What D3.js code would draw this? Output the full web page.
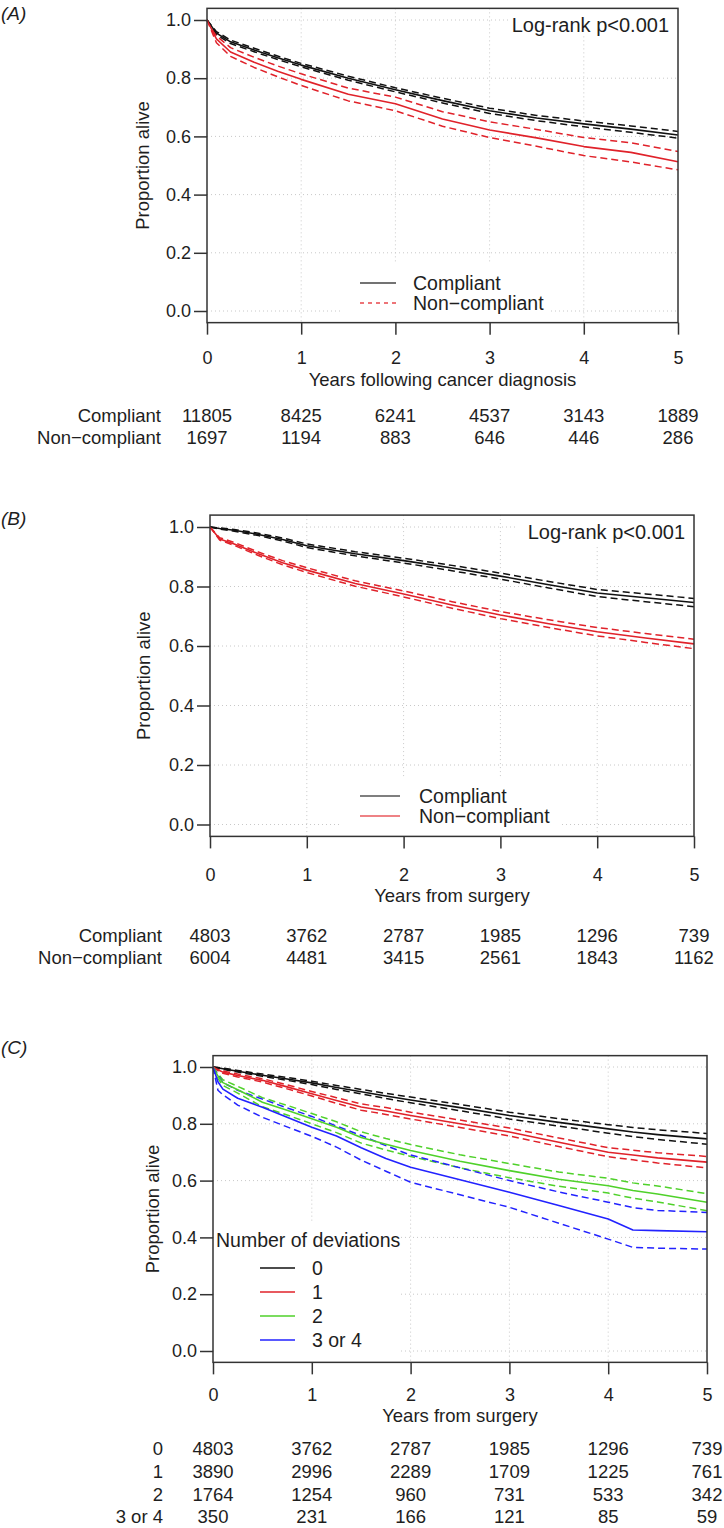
<!DOCTYPE html>
<html>
<head>
<meta charset="utf-8">
<script src="https://cdn.jsdelivr.net/npm/d3@7"></script>
<style>
html,body{margin:0;padding:0;background:#fff;}
svg{display:block;}
text{font-family:"Liberation Sans",Arial,Helvetica,sans-serif;fill:#1e1e1e;}
</style>
</head>
<body>
<svg id="chart" width="724" height="1528"></svg>
<script>
// ---------------- DATA ----------------
const xTicks = [0, 1, 2, 3, 4, 5];
const yTicks = [0, 0.2, 0.4, 0.6, 0.8, 1.0];

// Panel A: years following cancer diagnosis
const timesA = [0, 0.1, 0.25, 0.5, 0.75, 1, 1.5, 2, 2.5, 3, 3.5, 4, 4.5, 5];
const compliantA      = [1, 0.955, 0.925, 0.897, 0.870, 0.845, 0.800, 0.760, 0.723, 0.688, 0.663, 0.643, 0.625, 0.605];
const compliantA_hi   = [1, 0.960, 0.931, 0.903, 0.876, 0.851, 0.807, 0.767, 0.731, 0.697, 0.672, 0.653, 0.636, 0.617];
const compliantA_lo   = [1, 0.950, 0.919, 0.891, 0.864, 0.839, 0.793, 0.753, 0.715, 0.679, 0.654, 0.633, 0.614, 0.594];
const nonCompliantA   = [1, 0.935, 0.890, 0.855, 0.824, 0.796, 0.745, 0.712, 0.660, 0.622, 0.595, 0.565, 0.545, 0.513];
const nonCompliantA_hi= [1, 0.945, 0.905, 0.872, 0.842, 0.815, 0.766, 0.735, 0.685, 0.650, 0.624, 0.596, 0.578, 0.548];
const nonCompliantA_lo= [1, 0.922, 0.875, 0.837, 0.805, 0.775, 0.722, 0.688, 0.635, 0.596, 0.566, 0.534, 0.512, 0.485];
const riskA_compliant    = [11805, 8425, 6241, 4537, 3143, 1889];
const riskA_nonCompliant = [1697, 1194, 883, 646, 446, 286];

// Panel B: years from surgery
const timesB = [0, 0.1, 0.25, 0.5, 0.75, 1, 1.5, 2, 2.5, 3, 3.5, 4, 4.5, 5];
const compliantB      = [1, 0.995, 0.989, 0.975, 0.958, 0.937, 0.910, 0.887, 0.862, 0.835, 0.806, 0.778, 0.762, 0.746];
const compliantB_hi   = [1, 0.997, 0.992, 0.979, 0.963, 0.943, 0.917, 0.895, 0.871, 0.845, 0.817, 0.790, 0.775, 0.760];
const compliantB_lo   = [1, 0.993, 0.986, 0.971, 0.953, 0.931, 0.903, 0.879, 0.853, 0.825, 0.795, 0.766, 0.749, 0.732];
const nonCompliantB   = [1, 0.960, 0.943, 0.910, 0.880, 0.855, 0.810, 0.775, 0.738, 0.704, 0.675, 0.648, 0.627, 0.607];
const nonCompliantB_hi= [1, 0.964, 0.948, 0.916, 0.887, 0.863, 0.819, 0.785, 0.749, 0.716, 0.688, 0.662, 0.642, 0.623];
const nonCompliantB_lo= [1, 0.956, 0.938, 0.904, 0.873, 0.847, 0.801, 0.765, 0.727, 0.692, 0.662, 0.634, 0.612, 0.591];
const riskB_compliant    = [4803, 3762, 2787, 1985, 1296, 739];
const riskB_nonCompliant = [6004, 4481, 3415, 2561, 1843, 1162];

// Panel C: number of deviations
const timesC = [0, 0.05, 0.1, 0.25, 0.5, 0.75, 1, 1.25, 1.5, 1.75, 2, 2.5, 3, 3.5, 4, 4.25, 4.5, 5];
const dev0    = [1, 0.997, 0.994, 0.985, 0.971, 0.958, 0.944, 0.928, 0.913, 0.898, 0.884, 0.857, 0.829, 0.805, 0.782, 0.771, 0.762, 0.747];
const dev0_hi = [1, 0.998, 0.996, 0.988, 0.975, 0.963, 0.950, 0.935, 0.921, 0.907, 0.894, 0.868, 0.841, 0.818, 0.797, 0.787, 0.779, 0.766];
const dev0_lo = [1, 0.996, 0.992, 0.982, 0.967, 0.953, 0.938, 0.921, 0.905, 0.889, 0.874, 0.846, 0.817, 0.792, 0.767, 0.755, 0.745, 0.728];
const dev1    = [1, 0.990, 0.982, 0.970, 0.953, 0.930, 0.906, 0.882, 0.859, 0.845, 0.829, 0.800, 0.771, 0.735, 0.700, 0.690, 0.680, 0.665];
const dev1_hi = [1, 0.993, 0.986, 0.975, 0.959, 0.937, 0.914, 0.892, 0.870, 0.857, 0.841, 0.813, 0.785, 0.750, 0.716, 0.707, 0.698, 0.685];
const dev1_lo = [1, 0.987, 0.978, 0.965, 0.947, 0.923, 0.898, 0.872, 0.848, 0.833, 0.817, 0.787, 0.757, 0.720, 0.684, 0.673, 0.662, 0.645];
const dev2    = [1, 0.968, 0.945, 0.920, 0.876, 0.848, 0.818, 0.788, 0.752, 0.728, 0.706, 0.668, 0.635, 0.605, 0.582, 0.565, 0.553, 0.524];
const dev2_hi = [1, 0.976, 0.955, 0.932, 0.892, 0.865, 0.836, 0.807, 0.772, 0.748, 0.727, 0.691, 0.660, 0.630, 0.608, 0.592, 0.581, 0.554];
const dev2_lo = [1, 0.960, 0.935, 0.908, 0.860, 0.831, 0.800, 0.769, 0.732, 0.708, 0.685, 0.645, 0.610, 0.580, 0.556, 0.538, 0.525, 0.494];
const dev34    = [1, 0.948, 0.922, 0.890, 0.858, 0.823, 0.788, 0.757, 0.716, 0.678, 0.647, 0.603, 0.559, 0.512, 0.465, 0.426, 0.424, 0.420];
const dev34_hi = [1, 0.973, 0.945, 0.918, 0.887, 0.856, 0.826, 0.792, 0.759, 0.723, 0.690, 0.645, 0.600, 0.560, 0.524, 0.505, 0.495, 0.488];
const dev34_lo = [1, 0.918, 0.902, 0.866, 0.823, 0.789, 0.756, 0.718, 0.672, 0.633, 0.594, 0.550, 0.506, 0.450, 0.394, 0.365, 0.362, 0.359];
const riskC_0  = [4803, 3762, 2787, 1985, 1296, 739];
const riskC_1  = [3890, 2996, 2289, 1709, 1225, 761];
const riskC_2  = [1764, 1254, 960, 731, 533, 342];
const riskC_34 = [350, 231, 166, 121, 85, 59];

// ---------------- DRAW ----------------
const svg = d3.select("#chart");
const BLACK = "#111", RED = "#e0222a", GREEN = "#4fd12a", BLUE = "#2222ff";
const CI_DASH = "7,4";

function drawPanel(cfg) {
  const g = svg.append("g");
  const x = d3.scaleLinear().domain([0, 5]).range([cfg.left, cfg.right]);
  const y = d3.scaleLinear().domain([0, 1]).range([cfg.y0, cfg.y1]);
  const top = y(1.04), bottom = y(-0.04);

  // grid
  const grid = g.append("g").attr("stroke", "#c8c8c8").attr("stroke-width", 1).attr("stroke-dasharray", "1,3");
  grid.selectAll("line.v").data(xTicks.slice(1, -1)).join("line")
    .attr("x1", d => x(d)).attr("x2", d => x(d)).attr("y1", top).attr("y2", bottom);
  grid.selectAll("line.h").data(yTicks).join("line")
    .attr("x1", cfg.left).attr("x2", cfg.right).attr("y1", d => y(d)).attr("y2", d => y(d));

  // white backgrounds of legend / annotation
  cfg.bgs.forEach(b => g.append("rect").attr("x", b[0]).attr("y", b[1])
    .attr("width", b[2] - b[0]).attr("height", b[3] - b[1]).attr("fill", "#fff"));

  // curves
  const line = d3.line().x(d => x(d[0])).y(d => y(d[1]));
  cfg.series.forEach(s => {
    g.append("path")
      .attr("d", line(s.t.map((t, i) => [t, s.v[i]])))
      .attr("fill", "none").attr("stroke", s.color)
      .attr("stroke-width", s.dash ? 1.5 : 1.6)
      .attr("stroke-dasharray", s.dash ? CI_DASH : null)
      .attr("stroke-linejoin", "round");
  });

  // box
  g.append("rect").attr("x", cfg.left).attr("y", top).attr("width", cfg.right - cfg.left)
    .attr("height", bottom - top).attr("fill", "none").attr("stroke", "#333").attr("stroke-width", 1.5);

  // y axis
  const ya = g.append("g").attr("transform", `translate(${cfg.left},0)`)
    .call(d3.axisLeft(y).tickValues(yTicks).tickFormat(d3.format(".1f")).tickSize(13).tickPadding(3));
  ya.select(".domain").remove();
  ya.selectAll(".tick line").attr("stroke", "#333").attr("stroke-width", 1.5);
  ya.selectAll(".tick text").attr("font-size", 18).attr("fill", "#1e1e1e")
    .style("font-family", '"Liberation Sans",Arial,sans-serif');

  // x axis
  const xa = g.append("g").attr("transform", `translate(0,${bottom})`)
    .call(d3.axisBottom(x).tickValues(xTicks).tickFormat(d3.format("d")).tickSize(12));
  xa.select(".domain").remove();
  xa.selectAll(".tick line").attr("stroke", "#333").attr("stroke-width", 1.5);
  xa.selectAll(".tick text").attr("font-size", 18).attr("fill", "#1e1e1e")
    .attr("y", cfg.xLabelY - bottom).attr("dy", "0.36em")
    .style("font-family", '"Liberation Sans",Arial,sans-serif');

  // axis titles
  g.append("text").attr("transform", `translate(${cfg.yTitleX},${(y(0) + y(1)) / 2}) rotate(-90)`)
    .attr("text-anchor", "middle").attr("dy", "0.36em").attr("font-size", 18.5).text("Proportion alive");
  g.append("text").attr("x", (cfg.left + cfg.right) / 2).attr("y", cfg.xTitleY).attr("dy", "0.36em")
    .attr("text-anchor", "middle").attr("font-size", 18.5).text(cfg.xTitle);

  // panel label
  g.append("text").attr("x", 1).attr("y", cfg.labelY).attr("dy", "0.36em")
    .attr("font-size", 19).attr("font-style", "italic").text(cfg.label);

  // log-rank
  if (cfg.logrank) {
    g.append("text").attr("x", cfg.logrank[0]).attr("y", cfg.logrank[1]).attr("dy", "0.36em")
      .attr("text-anchor", "end").attr("font-size", 20).text("Log-rank p<0.001");
  }

  // numbers at risk table
  cfg.table.forEach((row, r) => {
    const ry = cfg.tableY[r];
    g.append("text").attr("x", cfg.tableLabelX).attr("y", ry).attr("dy", "0.36em")
      .attr("text-anchor", "end").attr("font-size", 18.5).text(row.name);
    g.selectAll(null).data(row.values).join("text")
      .attr("x", (d, i) => x(xTicks[i])).attr("y", ry).attr("dy", "0.36em")
      .attr("text-anchor", "middle").attr("font-size", 18.5).text(d => d);
  });

  // legend
  const lg = cfg.legend;
  if (lg.title) {
    g.append("text").attr("x", lg.titleX).attr("y", lg.titleY).attr("dy", "0.36em")
      .attr("font-size", 19.5).text(lg.title);
  }
  lg.items.forEach((it, i) => {
    const ly = lg.ys[i];
    g.append("line").attr("x1", lg.x0).attr("x2", lg.x1).attr("y1", ly).attr("y2", ly)
      .attr("stroke", it.color).attr("stroke-width", 1.4)
      .attr("stroke-dasharray", it.dash ? "4,4" : null);
    g.append("text").attr("x", lg.tx).attr("y", ly).attr("dy", "0.36em")
      .attr("font-size", 19.5).text(it.name);
  });
}

// Panel A
drawPanel({
  label: "(A)", labelY: 13,
  left: 207, right: 678, y0: 311, y1: 20,
  xLabelY: 358, xTitleY: 379, xTitle: "Years following cancer diagnosis",
  yTitleX: 142,
  logrank: [669, 25],
  bgs: [[508, 8, 677, 34], [340, 262, 550, 322]],
  series: [
    {t: timesA, v: compliantA_hi, color: BLACK, dash: true},
    {t: timesA, v: compliantA_lo, color: BLACK, dash: true},
    {t: timesA, v: nonCompliantA_hi, color: RED, dash: true},
    {t: timesA, v: nonCompliantA_lo, color: RED, dash: true},
    {t: timesA, v: compliantA, color: BLACK},
    {t: timesA, v: nonCompliantA, color: RED}
  ],
  tableLabelX: 161, tableY: [415, 437],
  table: [
    {name: "Compliant", values: riskA_compliant},
    {name: "Non\u2212compliant", values: riskA_nonCompliant}
  ],
  legend: {x0: 360, x1: 396, tx: 413, ys: [283, 303],
    items: [{name: "Compliant", color: "#444"}, {name: "Non\u2212compliant", color: "#e8474c", dash: true}]}
});

// Panel B
drawPanel({
  label: "(B)", labelY: 518,
  left: 210, right: 694, y0: 824.5, y1: 527,
  xLabelY: 875, xTitleY: 895, xTitle: "Years from surgery",
  yTitleX: 143,
  logrank: [685, 532],
  bgs: [[515, 515, 693, 547], [341, 778, 561, 836]],
  series: [
    {t: timesB, v: compliantB_hi, color: BLACK, dash: true},
    {t: timesB, v: compliantB_lo, color: BLACK, dash: true},
    {t: timesB, v: nonCompliantB_hi, color: RED, dash: true},
    {t: timesB, v: nonCompliantB_lo, color: RED, dash: true},
    {t: timesB, v: compliantB, color: BLACK},
    {t: timesB, v: nonCompliantB, color: RED}
  ],
  tableLabelX: 162, tableY: [935, 957],
  table: [
    {name: "Compliant", values: riskB_compliant},
    {name: "Non\u2212compliant", values: riskB_nonCompliant}
  ],
  legend: {x0: 360, x1: 400, tx: 419, ys: [796, 816],
    items: [{name: "Compliant", color: "#555"}, {name: "Non\u2212compliant", color: "#e8585c"}]}
});

// Panel C
drawPanel({
  label: "(C)", labelY: 1047,
  left: 213, right: 707, y0: 1351, y1: 1067,
  xLabelY: 1395, xTitleY: 1415, xTitle: "Years from surgery",
  yTitleX: 152,
  logrank: null,
  bgs: [[214, 1222, 399, 1361]],
  series: [
    {t: timesC, v: dev0_hi, color: BLACK, dash: true},
    {t: timesC, v: dev0_lo, color: BLACK, dash: true},
    {t: timesC, v: dev1_hi, color: RED, dash: true},
    {t: timesC, v: dev1_lo, color: RED, dash: true},
    {t: timesC, v: dev2_hi, color: GREEN, dash: true},
    {t: timesC, v: dev2_lo, color: GREEN, dash: true},
    {t: timesC, v: dev34_hi, color: BLUE, dash: true},
    {t: timesC, v: dev34_lo, color: BLUE, dash: true},
    {t: timesC, v: dev0, color: BLACK},
    {t: timesC, v: dev1, color: RED},
    {t: timesC, v: dev2, color: GREEN},
    {t: timesC, v: dev34, color: BLUE}
  ],
  tableLabelX: 163, tableY: [1448, 1471, 1494, 1516],
  table: [
    {name: "0", values: riskC_0},
    {name: "1", values: riskC_1},
    {name: "2", values: riskC_2},
    {name: "3 or 4", values: riskC_34}
  ],
  legend: {title: "Number of deviations", titleX: 216, titleY: 1240,
    x0: 260, x1: 295, tx: 312, ys: [1268, 1292, 1316, 1340],
    items: [{name: "0", color: BLACK}, {name: "1", color: RED},
            {name: "2", color: GREEN}, {name: "3 or 4", color: BLUE}]}
});
</script>
</body>
</html>
